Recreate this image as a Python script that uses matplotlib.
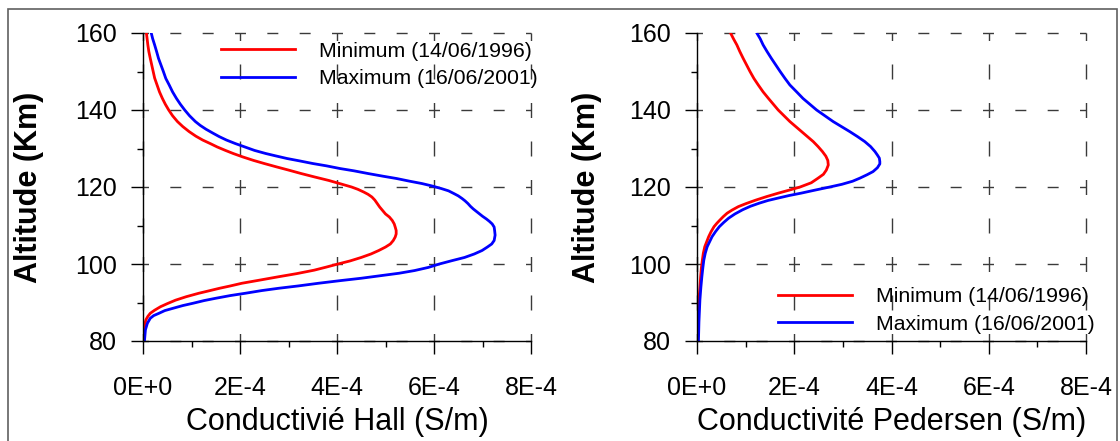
import matplotlib
matplotlib.use("Agg")
import matplotlib.pyplot as plt
from matplotlib.patches import Rectangle
from matplotlib.ticker import FixedLocator, MultipleLocator

plt.rcParams['font.family'] = ['Liberation Sans', 'DejaVu Sans']

# Conductivité Hall (unités de 1E-4 S/m)
alt_hall_min = [80, 82.9, 84.5, 85.5, 86.4, 87.2, 88.0, 88.9, 89.7, 90.6, 91.5, 92.4,
                93.0, 93.7, 94.3, 95.0, 95.8, 96.7, 97.5, 98.4, 99.2, 100, 100.8,
                101.7, 102.6, 103.5, 104.4, 105.2, 106.1, 107, 107.8, 108.7, 109.6,
                110.4, 111.3, 112.2, 113.0, 113.9, 114.8, 115.7, 116.6, 117.4, 118.1,
                118.7, 119.4, 120, 120.8, 121.7, 122.6, 123.5, 124.4, 125.2, 126.1,
                126.9, 127.8, 128.7, 129.5, 130.4, 131.2, 132.2, 133.2, 134.4, 135.7,
                137, 138.5, 140, 141.5, 143, 144.7, 146.5, 148.3, 150, 151.7, 153.4,
                155.2, 156.9, 158.5, 160]
hall_min = [0.01, 0.02, 0.04, 0.06, 0.1, 0.15, 0.24, 0.36, 0.5, 0.67, 0.89, 1.15,
            1.35, 1.58, 1.8, 2.04, 2.4, 2.8, 3.17, 3.53, 3.78, 4.02, 4.27,
            4.5, 4.7, 4.86, 5.0, 5.1, 5.16, 5.2, 5.22, 5.22, 5.2,
            5.18, 5.14, 5.08, 5.0, 4.94, 4.88, 4.83, 4.78, 4.72, 4.64,
            4.55, 4.43, 4.3, 4.08, 3.83, 3.54, 3.26, 3.0, 2.76, 2.5,
            2.28, 2.06, 1.86, 1.7, 1.53, 1.4, 1.23, 1.09, 0.95, 0.82,
            0.71, 0.61, 0.53, 0.46, 0.4, 0.34, 0.29, 0.24, 0.21, 0.18, 0.15,
            0.12, 0.1, 0.085, 0.07]

alt_hall_max = [80, 82.9, 84.6, 85.9, 86.6, 87.2, 87.9, 88.5, 89.2, 89.8, 90.5, 91.1,
                91.8, 92.4, 93.1, 93.7, 94.3, 95.0, 95.7, 96.3, 97.0, 97.6, 98.3,
                99.1, 100, 100.9, 101.7, 102.6, 103.5, 104.4, 105.2, 106.1, 107.5,
                108.7, 109.6, 110.4, 111.1, 111.7, 112.4, 113.0, 113.7, 114.3, 115.0,
                115.7, 116.4, 117.0, 117.7, 118.3, 119.0, 119.6, 120.3, 120.9, 121.5,
                122.2, 122.8, 123.5, 124.2, 124.8, 125.5, 126.1, 126.8, 127.4, 128.1,
                128.7, 129.5, 130.4, 131.3, 132.2, 133.1, 134.0, 135, 136, 137,
                138.5, 140, 141.5, 143, 144.7, 146.5, 148.2, 150, 151.7, 153.4,
                155.2, 156.9, 158.5, 160]
hall_max = [0.03, 0.05, 0.09, 0.15, 0.22, 0.33, 0.45, 0.62, 0.82, 1.03, 1.26, 1.5,
            1.8, 2.11, 2.45, 2.8, 3.2, 3.62, 4.08, 4.5, 4.92, 5.28, 5.6,
            5.88, 6.11, 6.38, 6.63, 6.83, 6.99, 7.1, 7.19, 7.24, 7.26,
            7.25, 7.24, 7.2, 7.14, 7.08, 7.0, 6.94, 6.87, 6.81, 6.75,
            6.7, 6.64, 6.58, 6.5, 6.41, 6.3, 6.15, 5.95, 5.75, 5.5,
            5.23, 4.95, 4.64, 4.35, 4.06, 3.78, 3.5, 3.22, 2.97, 2.73,
            2.53, 2.3, 2.1, 1.9, 1.72, 1.57, 1.44, 1.3, 1.18, 1.08,
            0.96, 0.86, 0.77, 0.69, 0.61, 0.54, 0.47, 0.42, 0.37, 0.32,
            0.28, 0.24, 0.2, 0.17]

# Conductivité Pedersen (unités de 1E-4 S/m)
alt_ped_min = [80, 85, 90.7, 94, 96.7, 99, 101, 102.8, 104.5, 105.8, 107.1, 108.4,
               109.7, 110.6, 111.4, 112.3, 113.2, 114.0, 114.9, 115.7, 116.6, 117.5,
               118.4, 119.2, 120, 121.1, 122.3, 123.3, 124.4, 125.7, 126.9, 128.0,
               129.2, 130.5, 131.8, 133.1, 134.4, 135.7, 137, 138.5, 140, 141.5,
               143, 144.7, 146.5, 148.2, 150, 151.7, 153.4, 155.2, 156.9, 158.5, 160]
ped_min = [0.01, 0.02, 0.04, 0.06, 0.075, 0.09, 0.11, 0.13, 0.16, 0.2, 0.24, 0.29,
           0.35, 0.41, 0.47, 0.54, 0.62, 0.72, 0.85, 1.01, 1.21, 1.43,
           1.67, 1.9, 2.12, 2.35, 2.49, 2.6, 2.66, 2.70, 2.69, 2.65,
           2.58, 2.49, 2.39, 2.27, 2.15, 2.03, 1.91, 1.79, 1.67, 1.57,
           1.47, 1.36, 1.26, 1.17, 1.09, 1.02, 0.95, 0.88, 0.82, 0.75, 0.69]

alt_ped_max = [80, 85, 90.7, 94, 96.7, 99, 101, 102.8, 104.5, 105.8, 107.1, 108.4,
               109.7, 110.8, 111.9, 113, 114.1, 115, 115.8, 116.5, 117.1, 117.8,
               118.4, 119.2, 120, 120.7, 121.5, 122.3, 123.2, 124.0, 125, 126,
               126.6, 127.5, 128.3, 129.2, 130.5, 131.8, 133.1, 134.4, 135.7, 137,
               138.5, 140, 141.5, 143, 144.7, 146.5, 148.2, 150, 151.7, 153.4,
               155.2, 156.9, 158.5, 160]
ped_max = [0.03, 0.04, 0.06, 0.08, 0.10, 0.12, 0.14, 0.17, 0.21, 0.26, 0.31, 0.38,
           0.46, 0.55, 0.65, 0.78, 0.94, 1.1, 1.28, 1.46, 1.66, 1.9,
           2.14, 2.43, 2.73, 2.98, 3.2, 3.35, 3.5, 3.62, 3.71, 3.76,
           3.76, 3.75, 3.71, 3.66, 3.57, 3.45, 3.3, 3.14, 2.97, 2.8,
           2.63, 2.46, 2.32, 2.18, 2.05, 1.91, 1.81, 1.71, 1.62, 1.53,
           1.44, 1.36, 1.3, 1.23]

labels = ['Minimum (14/06/1996)', 'Maximum (16/06/2001)']
xticks = [0, 2, 4, 6, 8]
xtick_labels = ['0E+0', '2E-4', '4E-4', '6E-4', '8E-4']
yticks = [80, 100, 120, 140, 160]

W, H = 1120, 441
fig = plt.figure(figsize=(W / 100, H / 100), dpi=100)

# cadre autour de la figure
fig.add_artist(Rectangle((8 / W, -0.05), (1117 - 8) / W, (H - 9) / H + 0.05,
                         transform=fig.transFigure, fill=False,
                         edgecolor='#606060', lw=1.2))

ax1 = fig.add_axes([143 / W, 100 / H, 388 / W, 308 / H])
ax2 = fig.add_axes([697 / W, 100 / H, 389 / W, 308 / H])


def style_axes(ax, xlabel, ylabel_x):
    ax.set_xlim(0, 8)
    ax.set_ylim(80, 160)
    ax.xaxis.set_major_locator(FixedLocator(xticks))
    ax.set_xticklabels(xtick_labels)
    ax.xaxis.set_minor_locator(MultipleLocator(1))
    ax.yaxis.set_major_locator(FixedLocator(yticks))
    ax.yaxis.set_minor_locator(MultipleLocator(10))
    for s in ['top', 'right']:
        ax.spines[s].set_visible(False)
    for s in ['left', 'bottom']:
        ax.spines[s].set_linewidth(1.0)
    ax.tick_params(which='major', direction='out', length=9, width=1, labelsize=18)
    ax.tick_params(which='minor', direction='out', length=4.5, width=1)
    ax.tick_params(axis='x', which='major', pad=16)
    ax.tick_params(axis='y', which='major', pad=10)
    # grille en tirets, centrés sur les croisements
    ax.xaxis.grid(True, color='#3a3a3a', lw=1, linestyle=(5.4, (10.8, 16.92)))
    ax.yaxis.grid(True, color='#3a3a3a', lw=1, linestyle=(3.95, (7.9, 15.38)))
    for gl in ax.xaxis.get_gridlines() + ax.yaxis.get_gridlines():
        gl.set_clip_on(False)
    ax.set_xlabel(xlabel, fontsize=22)
    ax.xaxis.set_label_coords(0.5, -0.214)
    ax.set_ylabel('Altitude (Km)', fontsize=22, fontweight='bold')
    ax.yaxis.set_label_coords(ylabel_x, 0.5)


leg_kw = dict(frameon=False, fontsize=15.3, handlelength=3.5, handletextpad=1.1,
              labelspacing=0.4, borderpad=0, borderaxespad=0)

ax1.plot(hall_min, alt_hall_min, color='#ff0000', lw=2, label=labels[0])
ax1.plot(hall_max, alt_hall_max, color='#0000ff', lw=2, label=labels[1])
style_axes(ax1, 'Conductivié Hall (S/m)', -0.255)
ax1.legend(loc='upper left', bbox_to_anchor=(0.201, 0.972), **leg_kw)

ax2.plot(ped_min, alt_ped_min, color='#ff0000', lw=2, label=labels[0])
ax2.plot(ped_max, alt_ped_max, color='#0000ff', lw=2, label=labels[1])
style_axes(ax2, 'Conductivité Pedersen (S/m)', -0.2455)
ax2.legend(loc='lower left', bbox_to_anchor=(0.208, 0.024), **leg_kw)

fig.savefig('out.png', dpi=100)
